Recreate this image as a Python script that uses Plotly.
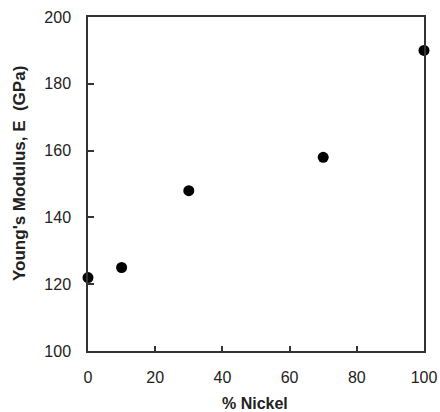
import plotly.graph_objects as go

nickel_pct = [0, 10, 30, 70, 100]
youngs_modulus_gpa = [122, 125, 148, 158, 190]
x_ticks = [0, 20, 40, 60, 80, 100]
y_ticks = [100, 120, 140, 160, 180, 200]

FONT = "Liberation Sans, Arial, sans-serif"

fig = go.Figure()
fig.add_trace(go.Scatter(
    x=nickel_pct, y=youngs_modulus_gpa, mode="markers",
    marker=dict(color="black", size=11),
    cliponaxis=False, showlegend=False,
))

axis_common = dict(
    showline=True, linecolor="#333333", linewidth=1.5, mirror=True,
    ticks="inside", tickcolor="#333333", tickwidth=1.5,
    showgrid=False, zeroline=False, automargin=False,
    tickfont=dict(family=FONT, size=16, color="#222222"),
)

fig.update_xaxes(range=[0, 100], tickvals=x_ticks, ticklen=5, ticklabelstandoff=11, **axis_common)
fig.update_yaxes(range=[100, 200], tickvals=y_ticks, ticklen=6, ticklabelstandoff=12, **axis_common)

fig.add_annotation(
    text="<b>% Nickel</b>", xref="paper", yref="paper", x=0.497, y=0,
    yshift=-52, xanchor="center", yanchor="middle", showarrow=False,
    font=dict(family=FONT, size=16, color="#222222"),
)
fig.add_annotation(
    text="<b>Young's Modulus, E  (GPa)</b>", xref="paper", yref="paper", x=0, y=0.53,
    xshift=-68, xanchor="center", yanchor="middle", textangle=-90, showarrow=False,
    font=dict(family=FONT, size=17, color="#222222"),
)

fig.update_layout(
    width=440, height=412,
    margin=dict(l=88, r=16, t=17, b=61),
    paper_bgcolor="white", plot_bgcolor="white",
)

fig.write_html(
    "out.html",
    config={"displayModeBar": False},
    post_script="document.body.style.margin='0';document.body.style.overflow='hidden';",
)
